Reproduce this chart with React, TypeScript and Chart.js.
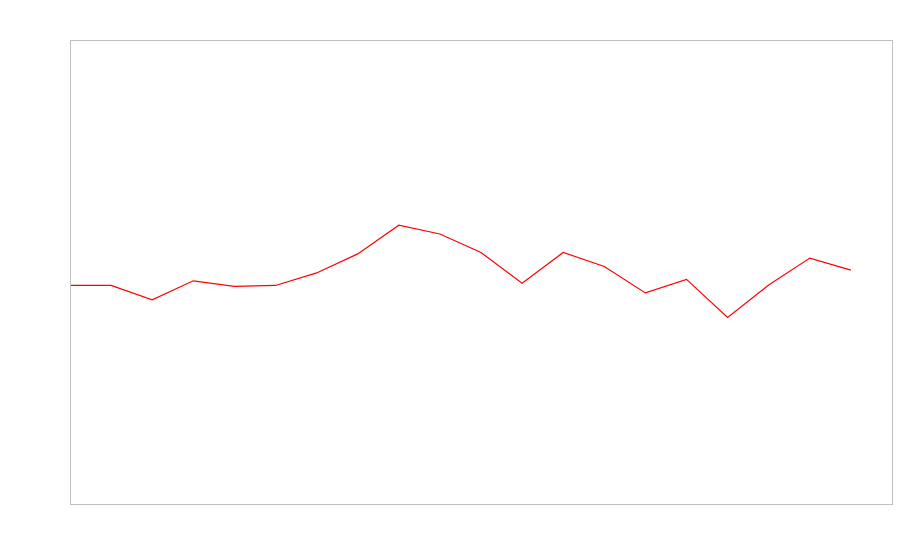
import React, { useEffect, useRef } from "react";
import { Chart, registerables } from "chart.js";

Chart.register(...registerables);

const categories: string[] = [
  "1", "2", "3", "4", "5", "6", "7", "8", "9", "10",
  "11", "12", "13", "14", "15", "16", "17", "18", "19", "20", "21",
];

const seriesValues: (number | null)[] = [
  47.1, 47.1, 44.0, 48.1, 46.9, 47.1, 49.8, 53.9, 60.1, 58.2,
  54.2, 47.6, 54.2, 51.2, 45.5, 48.4, 40.2, 47.2, 53.0, 50.4, null,
];

const yMin = 0;
const yMax = 100;

const boxPlugin = {
  id: "boxBorder",
  afterDraw(chart: any) {
    const { ctx, chartArea } = chart;
    ctx.save();
    ctx.strokeStyle = "#c0c0c0";
    ctx.lineWidth = 1;
    ctx.strokeRect(
      chartArea.left + 0.5,
      chartArea.top + 0.5,
      chartArea.right - chartArea.left,
      chartArea.bottom - chartArea.top
    );
    ctx.restore();
  },
};

export default function App() {
  const ref = useRef<HTMLCanvasElement | null>(null);

  useEffect(() => {
    if (!ref.current) return;
    const chart = new Chart(ref.current, {
      type: "line",
      data: {
        labels: categories,
        datasets: [
          {
            data: seriesValues,
            borderColor: "#ff0000",
            borderWidth: 1.2,
            pointRadius: 0,
            fill: false,
            tension: 0,
          },
        ],
      },
      options: {
        animation: false,
        responsive: false,
        layout: { padding: { left: 70, top: 40, right: 8, bottom: 56 } },
        plugins: {
          legend: { display: false },
          tooltip: { enabled: false },
          title: { display: false },
        },
        scales: {
          x: { display: false, offset: false },
          y: { display: false, min: yMin, max: yMax },
        },
      },
      plugins: [boxPlugin],
    });
    return () => chart.destroy();
  }, []);

  return (
    <div style={{ position: "absolute", left: 0, top: 0, width: 900, height: 560, background: "#fff" }}>
      <canvas ref={ref} width={900} height={560} style={{ display: "block" }} />
    </div>
  );
}
